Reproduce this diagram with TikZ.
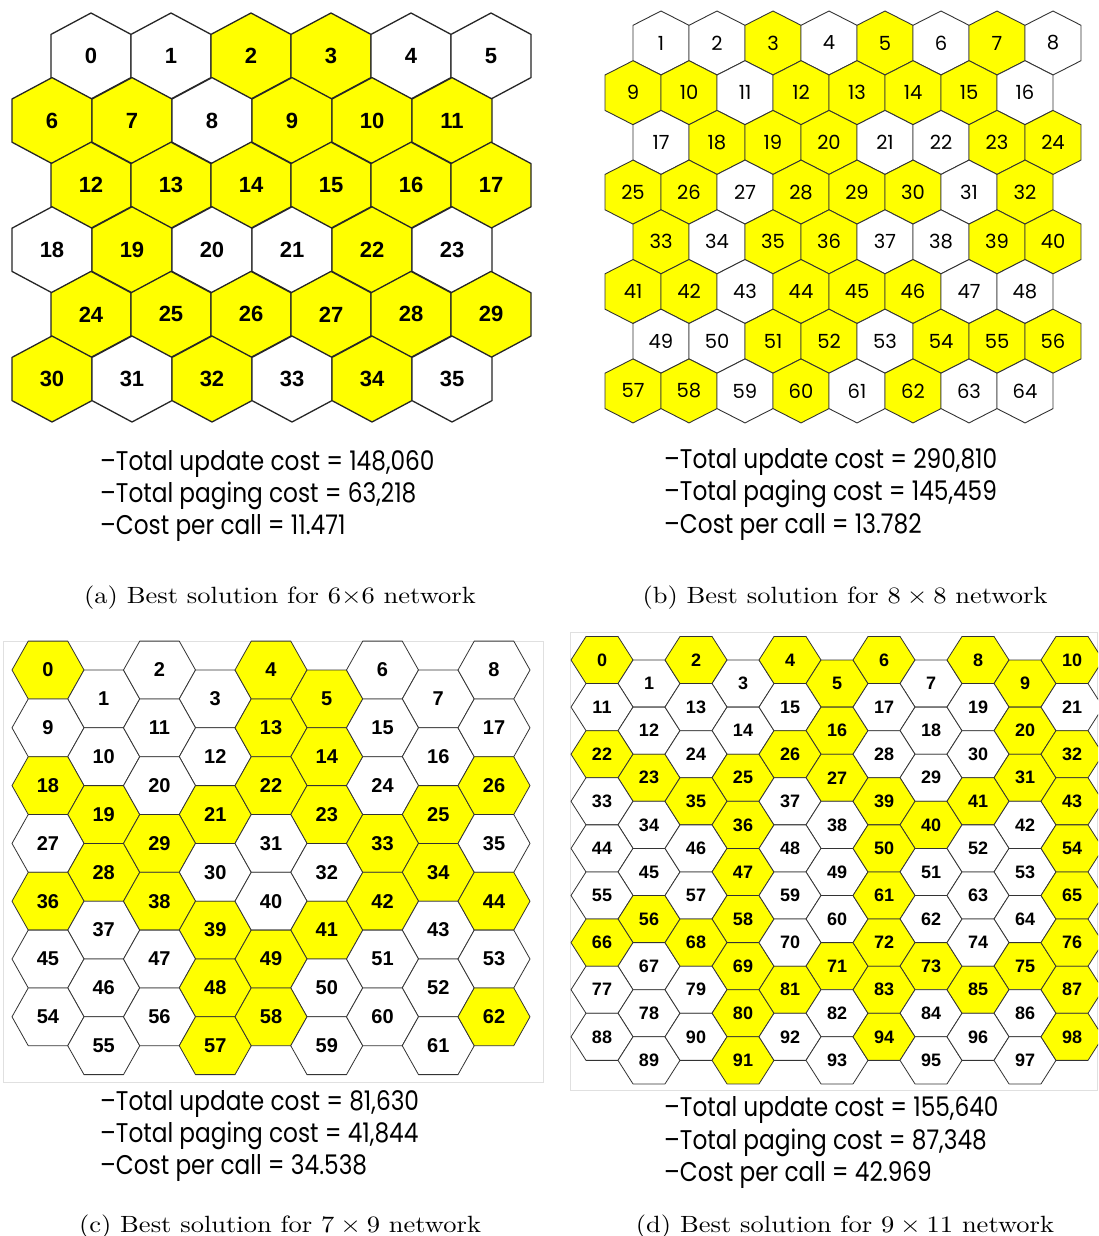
\documentclass[tikz,border=0pt]{standalone}
\usepackage{fontspec}
\usepackage{graphicx}
\newfontfamily\gothic{Poppins}
\newfontfamily\arial{Liberation Sans}
\definecolor{hexy}{RGB}{255,255,0}
\newlength\costw
\newlength\costh
\AtBeginDocument{%
  \settowidth{\costw}{\gothic\fontsize{20}{20}\selectfont –Total update cost = 290,810}%
  \settoheight{\costh}{\gothic\fontsize{20}{20}\selectfont –Total update cost = 290,810}%
}
\tikzset{
  hexa/.style={draw=black!85, line width=1.3pt, line join=round},
  hexb/.style={draw=black!80, line width=0.9pt, line join=round},
  hexc/.style={draw=black!80, line width=0.8pt, line join=round},
  laba/.style={font=\arial\bfseries\fontsize{22}{22}\selectfont, inner sep=0pt},
  labb/.style={font=\gothic\fontsize{19.5}{19.5}\selectfont, inner sep=0pt},
  labc/.style={font=\arial\bfseries\fontsize{20}{20}\selectfont, inner sep=0pt},
  labd/.style={font=\arial\bfseries\fontsize{18}{18}\selectfont, inner sep=0pt},
  cost/.style={font=\gothic\fontsize{20}{20}\selectfont, inner sep=0pt, anchor=base west},
  capt/.style={inner sep=0pt, anchor=base},
  frame/.style={draw=black!12, line width=0.8pt}
}
\begin{document}
\begin{tikzpicture}[x=1pt,y=-1pt]
\pgfmathsetmacro{\csx}{333/\costw}
\pgfmathsetmacro{\csy}{20/\costh}
\useasboundingbox[fill=white] (0,0) rectangle (1098,1236);
% ---------- (a) 6x6
\foreach \f [count=\i from 0] in {0,0,1,1,0,0, 1,1,0,1,1,1, 1,1,1,1,1,1, 0,1,0,0,1,0, 1,1,1,1,1,1, 1,0,1,0,1,0}{
  \pgfmathtruncatemacro{\r}{\i/6}
  \pgfmathtruncatemacro{\c}{\i-6*\r}
  \pgfmathsetmacro{\cx}{91+80*\c-39*mod(\r,2)}
  \pgfmathsetmacro{\cy}{56+64.6*\r}
  \ifnum\f=1 \def\fc{hexy}\else\def\fc{white}\fi
  \begin{scope}[shift={(\cx,\cy)}]
    \path[hexa, fill=\fc] (-40,-21.6) -- (0,-43) -- (40,-21.6) -- (40,21.6) -- (0,43) -- (-40,21.6) -- cycle;
    \node[laba] (a\i) at (0,0) {\i};
  \end{scope}
}
% ---------- (b) 8x8
\foreach \f [count=\i from 0] in {0,0,1,0,1,0,1,0, 1,1,0,1,1,1,1,0, 0,1,1,1,0,0,1,1, 1,1,0,1,1,1,0,1, 1,0,1,1,0,0,1,1, 1,1,0,1,1,1,0,0, 0,0,1,1,0,1,1,1, 1,1,0,1,0,1,0,0}{
  \pgfmathtruncatemacro{\r}{\i/8}
  \pgfmathtruncatemacro{\c}{\i-8*\r}
  \pgfmathtruncatemacro{\lab}{\i+1}
  \pgfmathsetmacro{\cx}{661+56*\c-28*mod(\r,2)}
  \pgfmathsetmacro{\cy}{43+49.7*\r}
  \ifnum\f=1 \def\fc{hexy}\else\def\fc{white}\fi
  \begin{scope}[shift={(\cx,\cy)}]
    \path[hexb, fill=\fc] (-28,-17.7) -- (0,-32) -- (28,-17.7) -- (28,17.7) -- (0,32) -- (-28,17.7) -- cycle;
    \node[labb] (b\lab) at (0,0) {\lab};
  \end{scope}
}
% ---------- (c) 7x9
\draw[frame] (3,641) rectangle (543,1082);
\foreach \f [count=\i from 0] in {1,0,0,0,1,1,0,0,0, 0,0,0,0,1,1,0,0,0, 1,1,0,1,1,1,0,1,1, 0,1,1,0,0,0,1,1,0, 1,0,1,1,0,1,1,0,1, 0,0,0,1,1,0,0,0,0, 0,0,0,1,1,0,0,0,1}{
  \pgfmathtruncatemacro{\r}{\i/9}
  \pgfmathtruncatemacro{\c}{\i-9*\r}
  \pgfmathsetmacro{\cx}{48+55.75*\c}
  \pgfmathsetmacro{\cy}{670+57.8*\r+28.9*mod(\c,2)}
  \ifnum\f=1 \def\fc{hexy}\else\def\fc{white}\fi
  \begin{scope}[shift={(\cx,\cy)}]
    \path[hexc, fill=\fc] (-36,0) -- (-19.75,-28.9) -- (19.75,-28.9) -- (36,0) -- (19.75,28.9) -- (-19.75,28.9) -- cycle;
    \node[labc] (c\i) at (0,0) {\i};
  \end{scope}
}
% ---------- (d) 9x11
\draw[frame] (570,632) rectangle (1097,1090);
\begin{scope}
\clip (570,632) rectangle (1098,1090);
\foreach \f [count=\i from 0] in {1,0,1,0,1,1,1,0,1,1,1, 0,0,0,0,0,1,0,0,0,1,0, 1,1,0,1,1,1,0,0,0,1,1, 0,0,1,1,0,0,1,1,1,0,1, 0,0,0,1,0,0,1,0,0,0,1, 0,1,0,1,0,0,1,0,0,0,1, 1,0,1,1,0,1,1,1,0,1,1, 0,0,0,1,1,0,1,0,1,0,1, 0,0,0,1,0,0,1,0,0,0,1}{
  \pgfmathtruncatemacro{\r}{\i/11}
  \pgfmathtruncatemacro{\c}{\i-11*\r}
  \pgfmathsetmacro{\cx}{602+47*\c}
  \pgfmathsetmacro{\cy}{660+47.1*\r+23.55*mod(\c,2)}
  \ifnum\f=1 \def\fc{hexy}\else\def\fc{white}\fi
  \begin{scope}[shift={(\cx,\cy)}]
    \path[hexc, fill=\fc] (-31,0) -- (-16,-23.55) -- (16,-23.55) -- (31,0) -- (16,23.55) -- (-16,23.55) -- cycle;
    \node[labd] (d\i) at (0,0) {\i};
  \end{scope}
}
\end{scope}
% ---------- cost texts
\node[cost] (ta1) at (100,470) {\scalebox{\csx}[\csy]{–Total update cost = 148,060}};
\node[cost] (ta2) at (100,502) {\scalebox{\csx}[\csy]{–Total paging cost = 63,218}};
\node[cost] (ta3) at (100,534) {\scalebox{\csx}[\csy]{–Cost per call = 11.471}};
\node[cost] (tb1) at (664,468) {\scalebox{\csx}[\csy]{–Total update cost = 290,810}};
\node[cost] (tb2) at (664,500) {\scalebox{\csx}[\csy]{–Total paging cost = 145,459}};
\node[cost] (tb3) at (664,533) {\scalebox{\csx}[\csy]{–Cost per call = 13.782}};
\node[cost] (tc1) at (100,1110) {\scalebox{\csx}[\csy]{–Total update cost = 81,630}};
\node[cost] (tc2) at (100,1142) {\scalebox{\csx}[\csy]{–Total paging cost = 41,844}};
\node[cost] (tc3) at (100,1174) {\scalebox{\csx}[\csy]{–Cost per call = 34.538}};
\node[cost] (td1) at (664,1116) {\scalebox{\csx}[\csy]{–Total update cost = 155,640}};
\node[cost] (td2) at (664,1149) {\scalebox{\csx}[\csy]{–Total paging cost = 87,348}};
\node[cost] (td3) at (664,1181) {\scalebox{\csx}[\csy]{–Cost per call = 42.969}};
% ---------- captions
\node[capt] (capa) at (280,603) {\scalebox{2.65}[2.35]{(a) Best solution for 6$\times$6 network}};
\node[capt] (capb) at (845,603) {\scalebox{2.65}[2.35]{(b) Best solution for $8\times8$ network}};
\node[capt] (capc) at (280,1232) {\scalebox{2.65}[2.35]{(c) Best solution for $7\times9$ network}};
\node[capt] (capd) at (845,1232) {\scalebox{2.65}[2.35]{(d) Best solution for $9\times11$ network}};
\end{tikzpicture}
\end{document}
